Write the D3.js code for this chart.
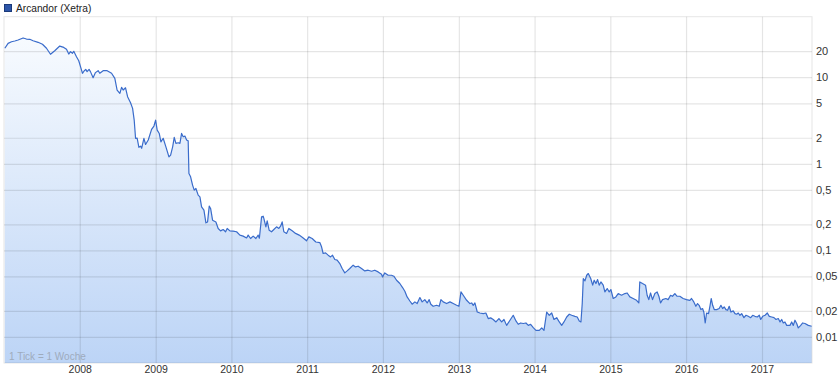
<!DOCTYPE html>
<html>
<head>
<meta charset="utf-8">
<script src="https://cdn.jsdelivr.net/npm/d3@7"></script>
<style>
  body { margin: 0; background: #fff; }
  svg { display: block; font-family: "Liberation Sans", Arial, sans-serif; }
</style>
</head>
<body>
<div id="chart"></div>
<script>
// weekly closing prices, time as decimal year
var times = [
  2007.011, 2007.054, 2007.099, 2007.143, 2007.186, 2007.252, 2007.297, 2007.340, 2007.384, 2007.450,
  2007.508, 2007.561, 2007.614, 2007.670, 2007.736, 2007.789, 2007.825, 2007.855, 2007.878, 2007.904,
  2007.921, 2007.957, 2007.987, 2008.013, 2008.036, 2008.057, 2008.079, 2008.097, 2008.123, 2008.141,
  2008.176, 2008.207, 2008.242, 2008.264, 2008.308, 2008.361, 2008.419, 2008.462, 2008.492, 2008.528,
  2008.551, 2008.572, 2008.603, 2008.630, 2008.669, 2008.696, 2008.717, 2008.735, 2008.756, 2008.779,
  2008.801, 2008.815, 2008.845, 2008.867, 2008.902, 2008.946, 2008.977, 2008.999, 2009.020, 2009.047,
  2009.069, 2009.099, 2009.135, 2009.175, 2009.197, 2009.224, 2009.245, 2009.267, 2009.298, 2009.320,
  2009.342, 2009.363, 2009.386, 2009.408, 2009.429, 2009.439, 2009.461, 2009.487, 2009.509, 2009.531,
  2009.561, 2009.584, 2009.606, 2009.637, 2009.663, 2009.685, 2009.707, 2009.725, 2009.751, 2009.795,
  2009.825, 2009.857, 2009.891, 2009.923, 2009.944, 2009.980, 2010.023, 2010.068, 2010.112, 2010.155,
  2010.200, 2010.221, 2010.253, 2010.287, 2010.323, 2010.353, 2010.369, 2010.398, 2010.419, 2010.428,
  2010.455, 2010.472, 2010.498, 2010.530, 2010.560, 2010.596, 2010.626, 2010.649, 2010.670, 2010.692,
  2010.728, 2010.758, 2010.802, 2010.847, 2010.894, 2010.939, 2010.992, 2011.022, 2011.066, 2011.115,
  2011.167, 2011.190, 2011.211, 2011.243, 2011.277, 2011.309, 2011.335, 2011.365, 2011.396, 2011.431,
  2011.462, 2011.497, 2011.528, 2011.563, 2011.607, 2011.638, 2011.673, 2011.718, 2011.761, 2011.805,
  2011.850, 2011.893, 2011.937, 2011.982, 2011.995, 2012.025, 2012.069, 2012.114, 2012.144, 2012.180,
  2012.223, 2012.259, 2012.289, 2012.319, 2012.355, 2012.385, 2012.421, 2012.451, 2012.487, 2012.517,
  2012.552, 2012.583, 2012.609, 2012.631, 2012.662, 2012.707, 2012.741, 2012.764, 2012.794, 2012.839,
  2012.883, 2012.926, 2012.971, 2013.001, 2013.028, 2013.058, 2013.103, 2013.146, 2013.169, 2013.190,
  2013.212, 2013.243, 2013.278, 2013.322, 2013.357, 2013.388, 2013.420, 2013.454, 2013.490, 2013.529,
  2013.565, 2013.596, 2013.631, 2013.675, 2013.718, 2013.754, 2013.784, 2013.816, 2013.850, 2013.886,
  2013.917, 2013.948, 2013.983, 2014.018, 2014.062, 2014.094, 2014.124, 2014.160, 2014.194, 2014.226,
  2014.256, 2014.292, 2014.326, 2014.358, 2014.388, 2014.424, 2014.458, 2014.490, 2014.533, 2014.563,
  2014.590, 2014.612, 2014.629, 2014.643, 2014.665, 2014.688, 2014.709, 2014.741, 2014.767, 2014.787,
  2014.810, 2014.832, 2014.853, 2014.876, 2014.906, 2014.928, 2014.959, 2014.985, 2015.007, 2015.038,
  2015.073, 2015.104, 2015.148, 2015.192, 2015.222, 2015.258, 2015.301, 2015.346, 2015.376, 2015.389,
  2015.425, 2015.465, 2015.486, 2015.508, 2015.531, 2015.557, 2015.588, 2015.618, 2015.641, 2015.663,
  2015.689, 2015.733, 2015.763, 2015.795, 2015.821, 2015.852, 2015.882, 2015.918, 2015.961, 2016.006,
  2016.050, 2016.072, 2016.102, 2016.129, 2016.151, 2016.172, 2016.195, 2016.217, 2016.234, 2016.252,
  2016.270, 2016.296, 2016.314, 2016.331, 2016.350, 2016.371, 2016.403, 2016.436, 2016.459, 2016.481,
  2016.502, 2016.525, 2016.547, 2016.568, 2016.591, 2016.621, 2016.644, 2016.666, 2016.687, 2016.710,
  2016.732, 2016.762, 2016.789, 2016.819, 2016.851, 2016.877, 2016.907, 2016.938, 2016.964, 2016.983,
  2017.009, 2017.040, 2017.070, 2017.096, 2017.128, 2017.158, 2017.185, 2017.215, 2017.238, 2017.260,
  2017.281, 2017.303, 2017.326, 2017.369, 2017.392, 2017.413, 2017.435, 2017.458, 2017.479, 2017.511,
  2017.537, 2017.567, 2017.611, 2017.656
];

var prices = [
  21.6, 24.6, 25.7, 26.2, 26.9, 28.4, 27.6, 27.4, 26.4, 25.3,
  24.0, 21.6, 18.4, 20.2, 22.9, 22.1, 21.0, 18.5, 19.7, 18.9,
  19.9, 17.2, 15.5, 13.0, 11.1, 11.8, 12.3, 11.6, 12.3, 11.6,
  9.86, 11.3, 11.9, 11.1, 11.9, 11.9, 11.1, 9.70, 7.11, 6.51,
  7.64, 7.11, 7.55, 5.95, 5.07, 4.37, 3.20, 1.97, 1.98, 1.55,
  1.60, 1.51, 1.97, 1.67, 1.88, 2.50, 2.73, 3.20, 2.45, 2.24,
  1.79, 1.97, 1.57, 1.20, 1.26, 1.57, 2.02, 1.72, 1.75, 1.72,
  2.24, 2.05, 2.09, 1.88, 1.84, 0.774, 0.707, 0.567, 0.496, 0.519,
  0.434, 0.415, 0.318, 0.291, 0.208, 0.213, 0.324, 0.305, 0.223, 0.213,
  0.179, 0.168, 0.174, 0.164, 0.179, 0.168, 0.167, 0.164, 0.150, 0.146,
  0.139, 0.150, 0.137, 0.146, 0.137, 0.150, 0.138, 0.244, 0.248, 0.234,
  0.187, 0.219, 0.171, 0.164, 0.174, 0.187, 0.179, 0.190, 0.213, 0.164,
  0.157, 0.179, 0.168, 0.157, 0.150, 0.141, 0.129, 0.143, 0.137, 0.125,
  0.123, 0.110, 0.092, 0.0935, 0.088, 0.084, 0.088, 0.0784, 0.077, 0.0705,
  0.0617, 0.0549, 0.0579, 0.0617, 0.0674, 0.0644, 0.0656, 0.0617, 0.0579, 0.059,
  0.0574, 0.059, 0.0564, 0.053, 0.0493, 0.0549, 0.0516, 0.0516, 0.0503, 0.0452,
  0.0414, 0.0372, 0.0337, 0.029, 0.026, 0.0239, 0.0254, 0.0243, 0.0285, 0.0254,
  0.027, 0.0247, 0.027, 0.0239, 0.0226, 0.0232, 0.0226, 0.027, 0.0254, 0.0243,
  0.0254, 0.0243, 0.0232, 0.0226, 0.0331, 0.0303, 0.0265, 0.0243, 0.0247, 0.0232,
  0.0247, 0.0194, 0.0189, 0.0186, 0.0189, 0.0163, 0.0166, 0.0159, 0.0149, 0.0163,
  0.0149, 0.0159, 0.0136, 0.0156, 0.0178, 0.0153, 0.014, 0.0145, 0.0143, 0.0145,
  0.0136, 0.014, 0.0128, 0.0119, 0.0119, 0.0127, 0.0119, 0.0194, 0.0178, 0.0189,
  0.0159, 0.0167, 0.0149, 0.0136, 0.0149, 0.017, 0.0183, 0.0178, 0.0173, 0.017,
  0.0153, 0.0149, 0.0243, 0.0473, 0.0444, 0.0516, 0.054, 0.0473, 0.0396, 0.0452,
  0.0414, 0.046, 0.0396, 0.0432, 0.0396, 0.0331, 0.0362, 0.0331, 0.0353, 0.0278,
  0.029, 0.0317, 0.0303, 0.0317, 0.0322, 0.029, 0.0278, 0.0265, 0.0247, 0.0432,
  0.0414, 0.0396, 0.0303, 0.027, 0.0322, 0.027, 0.0317, 0.0331, 0.0295, 0.0247,
  0.027, 0.0278, 0.027, 0.0303, 0.0295, 0.0317, 0.0295, 0.0295, 0.0278, 0.027,
  0.0265, 0.0278, 0.0254, 0.0226, 0.0243, 0.0232, 0.0207, 0.0213, 0.0194, 0.0145,
  0.0189, 0.0186, 0.0226, 0.0278, 0.0232, 0.0207, 0.0207, 0.0213, 0.0232, 0.0213,
  0.0222, 0.0207, 0.0203, 0.0226, 0.0194, 0.020, 0.0186, 0.0183, 0.0189, 0.0178,
  0.0186, 0.0167, 0.0178, 0.0173, 0.0167, 0.0178, 0.0173, 0.017, 0.0178, 0.0159,
  0.0173, 0.0178, 0.0189, 0.0173, 0.017, 0.0167, 0.0159, 0.0163, 0.0149, 0.0159,
  0.0145, 0.0149, 0.0136, 0.0136, 0.0149, 0.0136, 0.0156, 0.0143, 0.0127, 0.0136,
  0.0145, 0.0143, 0.0136, 0.0133
];

var yTicks = [0.01, 0.02, 0.05, 0.1, 0.2, 0.5, 1, 2, 5, 10, 20];
var yearTicks = [2008, 2009, 2010, 2011, 2012, 2013, 2014, 2015, 2016, 2017];
var seriesName = "Arcandor (Xetra)";
var tickNote = "1 Tick = 1 Woche";

// decimal year -> Date
function toDate(t) {
    var yr = Math.floor(t);
    var s = new Date(yr, 0, 1), e = new Date(yr + 1, 0, 1);
    return new Date(+s + (t - yr) * (e - s));
}

var W = 840, H = 378;
var plotL = 4, plotR = 812, plotT = 16.7, plotB = 363;

var data = times.map(function(t, i) { return { date: toDate(t), value: prices[i] }; });

var x = d3.scaleTime()
    .domain([toDate(2007.0), toDate(2017.66)])
    .range([plotL, plotR]);
var y = d3.scaleLog()
    .domain([0.005, 50])
    .range([plotB, plotT]);

var svg = d3.select("#chart").append("svg")
    .attr("width", W)
    .attr("height", H);

var grad = svg.append("defs").append("linearGradient")
    .attr("id", "fillGrad")
    .attr("gradientUnits", "userSpaceOnUse")
    .attr("x1", 0).attr("y1", plotT)
    .attr("x2", 0).attr("y2", plotB);
grad.append("stop").attr("offset", "0%").attr("stop-color", "#fbfdff");
grad.append("stop").attr("offset", "100%").attr("stop-color", "#bcd4f6");

// area
svg.append("path")
    .datum(data)
    .attr("fill", "url(#fillGrad)")
    .attr("d", d3.area()
        .x(function(d) { return x(d.date); })
        .y0(plotB)
        .y1(function(d) { return y(d.value); }));

// grid lines
var gridY = svg.append("g")
    .attr("transform", "translate(" + plotR + ",0)")
    .call(d3.axisLeft(y).tickValues(yTicks).tickSize(plotR - plotL).tickFormat(""));
gridY.select(".domain").remove();
gridY.selectAll("line").attr("stroke", "#000").attr("stroke-opacity", 0.1).attr("stroke-width", 1.2);

var gridX = svg.append("g")
    .attr("transform", "translate(0," + plotB + ")")
    .call(d3.axisTop(x)
        .tickValues(yearTicks.map(function(d) { return new Date(d, 0, 1); }))
        .tickSize(plotB - plotT).tickFormat(""));
gridX.select(".domain").remove();
gridX.selectAll("line").attr("stroke", "#000").attr("stroke-opacity", 0.1).attr("stroke-width", 1.2);

// frame
svg.append("rect")
    .attr("x", plotL).attr("y", plotT)
    .attr("width", plotR - plotL).attr("height", plotB - plotT)
    .attr("fill", "none")
    .attr("stroke", "#000").attr("stroke-opacity", 0.1);

// line
svg.append("path")
    .datum(data)
    .attr("fill", "none")
    .attr("stroke", "#3a6ccb")
    .attr("stroke-width", 1.2)
    .attr("stroke-linejoin", "round")
    .attr("d", d3.line()
        .x(function(d) { return x(d.date); })
        .y(function(d) { return y(d.value); }));

// y labels (German decimal comma)
var yAxis = svg.append("g")
    .attr("transform", "translate(" + plotR + ",0)")
    .call(d3.axisRight(y).tickValues(yTicks).tickSize(0).tickPadding(4)
        .tickFormat(function(d) { return String(d).replace(".", ","); }));
yAxis.select(".domain").remove();
yAxis.selectAll("text")
    .attr("fill", "#333")
    .style("font-size", "11px")
    .style("font-family", "Liberation Sans, Arial, sans-serif");

// x labels
var xAxis = svg.append("g")
    .attr("transform", "translate(0," + plotB + ")")
    .call(d3.axisBottom(x)
        .tickValues(yearTicks.map(function(d) { return new Date(d, 0, 1); }))
        .tickSize(0).tickPadding(3)
        .tickFormat(d3.timeFormat("%Y")));
xAxis.select(".domain").remove();
xAxis.selectAll("text")
    .attr("fill", "#333")
    .style("font-size", "10.5px")
    .style("font-family", "Liberation Sans, Arial, sans-serif");

// legend
svg.append("rect")
    .attr("x", 4.5).attr("y", 4.5)
    .attr("width", 7).attr("height", 7)
    .attr("fill", "#2c55a8")
    .attr("stroke", "#1b3a7a");
svg.append("text")
    .attr("x", 16).attr("y", 12)
    .attr("fill", "#222")
    .style("font-size", "10.2px")
    .text(seriesName);

// note
svg.append("text")
    .attr("x", 9).attr("y", 360)
    .attr("fill", "#9eabbd")
    .style("font-size", "10px")
    .text(tickNote);
</script>
</body>
</html>
